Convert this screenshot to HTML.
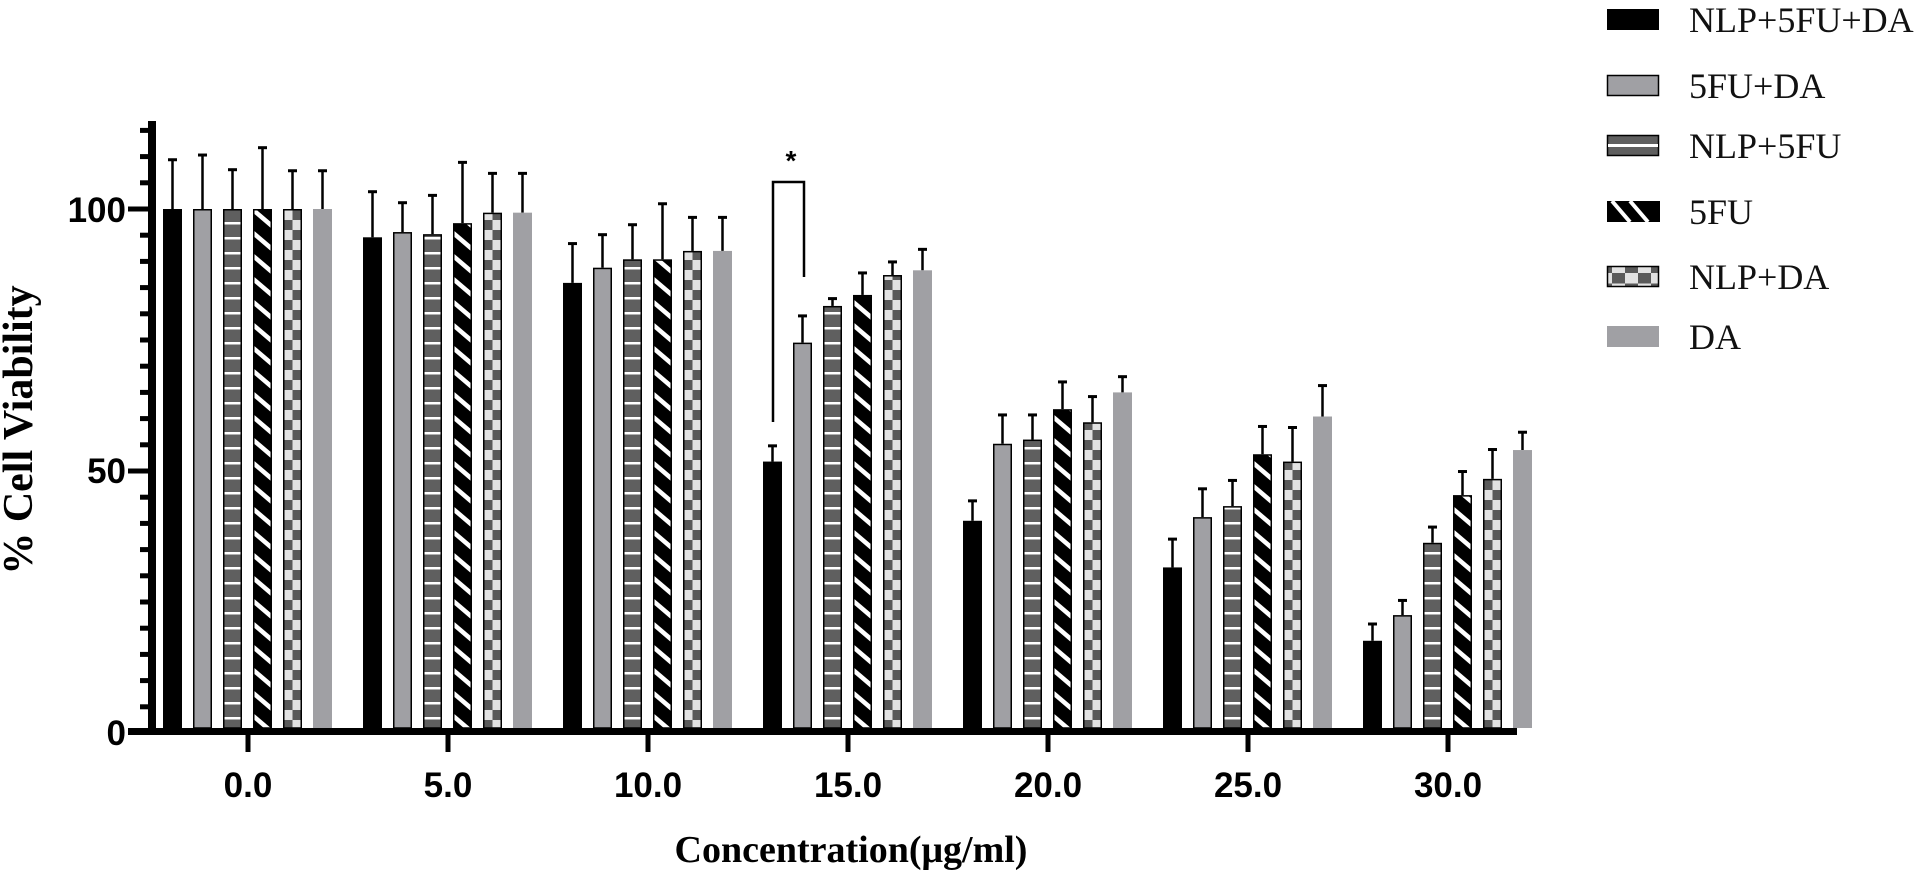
<!DOCTYPE html>
<html><head><meta charset="utf-8"><style>
html,body{margin:0;padding:0;background:#fff;}
svg{display:block;}
.tk{font-family:"Liberation Sans",Arial,sans-serif;font-weight:bold;font-size:35px;fill:#000;}
.lg{font-family:"Liberation Serif","Times New Roman",serif;font-size:36px;fill:#111;}
.tt{font-family:"Liberation Serif","Times New Roman",serif;font-weight:bold;fill:#000;}
</style></head><body>
<svg id="s" width="1920" height="874" viewBox="0 0 1920 874" xmlns="http://www.w3.org/2000/svg">
<defs>
<pattern id="hz" patternUnits="userSpaceOnUse" width="40" height="15">
<rect width="40" height="15" fill="#5f5f5f"/><rect y="12" width="40" height="2.5" fill="#fff"/></pattern>
<pattern id="dg" patternUnits="userSpaceOnUse" width="40" height="23">
<rect width="40" height="23" fill="#000"/><line x1="-1" y1="2" x2="19" y2="19" stroke="#fff" stroke-width="4.5"/></pattern>
<pattern id="ck" patternUnits="userSpaceOnUse" width="19" height="20">
<rect width="19" height="20" fill="#e2e2e2"/><rect width="9.5" height="10" fill="#5a5a5a"/><rect x="9.5" y="10" width="9.5" height="10" fill="#5a5a5a"/></pattern>
<pattern id="ck2" patternUnits="userSpaceOnUse" width="26" height="21">
<rect width="26" height="21" fill="#e2e2e2"/><rect width="13" height="10.5" fill="#5a5a5a"/><rect x="13" y="10.5" width="13" height="10.5" fill="#5a5a5a"/></pattern>
</defs>
<g id="bars"></g>
<rect x="148" y="121" width="8" height="614" fill="#000"/>
<rect x="131" y="728" width="1386" height="7" fill="#000"/>
<g id="ticks"></g>
<text class="tk" x="126" y="222" text-anchor="end">100</text>
<text class="tk" x="126" y="483" text-anchor="end">50</text>
<text class="tk" x="126" y="745" text-anchor="end">0</text>
<g class="tk" text-anchor="middle">
<text x="248" y="797">0.0</text><text x="448" y="797">5.0</text><text x="648" y="797">10.0</text>
<text x="848" y="797">15.0</text><text x="1048" y="797">20.0</text><text x="1248" y="797">25.0</text><text x="1448" y="797">30.0</text>
</g>
<text class="tt" x="851" y="862" text-anchor="middle" style="font-size:38px">Concentration(μg/ml)</text>
<text class="tt" transform="translate(32,430) rotate(-90)" text-anchor="middle" style="font-size:42px">% Cell Viability</text>
<polyline points="773,422 773,182 804,182 804,277" fill="none" stroke="#000" stroke-width="2.5"/>
<text x="791" y="170" text-anchor="middle" style="font-family:'Liberation Sans',sans-serif;font-weight:bold;font-size:28px">*</text>
<g>
<rect x="1607" y="9" width="52" height="21" fill="#000"/>
<rect x="1607.5" y="75.5" width="51" height="20" fill="#a0a0a4" stroke="#000" stroke-width="1.5"/>
<g><rect x="1607.5" y="135.5" width="51" height="20" fill="#5f5f5f" stroke="#000" stroke-width="1.5"/><rect x="1608" y="144" width="50" height="3" fill="#fff"/></g>
<g><rect x="1607" y="201" width="53" height="21" fill="#000"/>
<line x1="1612" y1="201" x2="1630" y2="222" stroke="#fff" stroke-width="4"/><line x1="1630" y1="201" x2="1648" y2="222" stroke="#fff" stroke-width="4"/></g>
<rect x="1607.5" y="266.5" width="51" height="20" fill="url(#ck2)" stroke="#000" stroke-width="1.5"/>
<rect x="1607" y="326" width="52" height="21" fill="#a0a0a4"/>
<text class="lg" x="1689" y="32">NLP+5FU+DA</text>
<text class="lg" x="1689" y="98">5FU+DA</text>
<text class="lg" x="1689" y="158">NLP+5FU</text>
<text class="lg" x="1689" y="224">5FU</text>
<text class="lg" x="1689" y="289">NLP+DA</text>
<text class="lg" x="1689" y="349">DA</text>
</g>
</svg>
<script>
(function(){
var NS="http://www.w3.org/2000/svg";
function el(t,a,p){var e=document.createElementNS(NS,t);for(var k in a)e.setAttribute(k,a[k]);p.appendChild(e);return e;}
var Y0=733,K=5.24;
function yy(v){return Y0-v*K;}
var data=[
[[100,109.4],[94.6,103.3],[85.9,93.4],[51.8,54.8],[40.5,44.3],[31.6,37],[17.6,20.8]],
[[100,110.3],[95.6,101.2],[88.8,95.1],[74.5,79.6],[55.2,60.7],[41.2,46.6],[22.5,25.3]],
[[100,107.5],[95.2,102.6],[90.4,97],[81.5,82.9],[56,60.7],[43.3,48.2],[36.3,39.3]],
[[100,111.7],[97.3,108.9],[90.4,101],[83.6,87.8],[61.8,67],[53.2,58.5],[45.4,49.9]],
[[100,107.3],[99.3,106.8],[92,98.4],[87.4,89.9],[59.3,64.2],[51.8,58.3],[48.5,54.1]],
[[100,107.3],[99.3,106.8],[92,98.4],[88.3,92.3],[65,68],[60.4,66.3],[54,57.4]]];
var fills=["#000","#a0a0a4","url(#hz)","url(#dg)","url(#ck)","#a0a0a4"];
var strokes=[null,"#000","#000","#000","#000",null];
var B=document.getElementById("bars");
for(var s=0;s<6;s++)for(var g=0;g<7;g++){
 var x=163+200*g+30*s,v=data[s][g][0],e=data[s][g][1];
 var G=el("g",{transform:"translate("+x+",0)"},B);
 var yt=yy(v),bot=728;
 el("line",{x1:9.5,y1:yt,x2:9.5,y2:yy(e),stroke:"#000","stroke-width":2.5},G);
 el("line",{x1:5,y1:yy(e),x2:14,y2:yy(e),stroke:"#000","stroke-width":3},G);
 var r={x:0,y:yt,width:19,height:bot-yt,fill:fills[s]};
 if(strokes[s]){r.x=0.75;r.y=yt+0.75;r.width=17.5;r.height=bot-yt-0.75;r.stroke=strokes[s];r["stroke-width"]=1.5;}
 el("rect",r,G);
}
var T=document.getElementById("ticks");
for(var v2=5;v2<=115;v2+=5){var y2=yy(v2);var maj=(v2%50==0);
 el("rect",{x:maj?128:140,y:y2-2.5,width:maj?22:10,height:5,fill:"#000"},T);}
el("rect",{x:128,y:728,width:22,height:7,fill:"#000"},T);
for(var g2=0;g2<7;g2++)el("rect",{x:245.5+200*g2,y:733,width:5,height:19,fill:"#000"},T);
})();
</script>
</body></html>
